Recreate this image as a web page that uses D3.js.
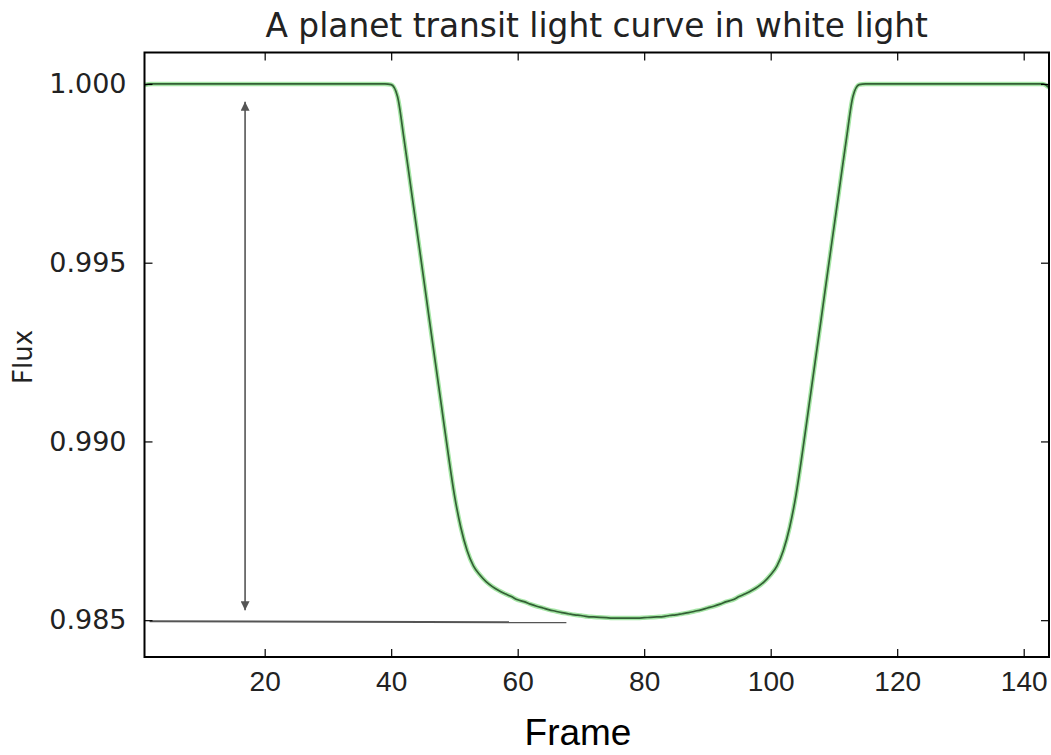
<!DOCTYPE html>
<html>
<head>
<meta charset="utf-8">
<script src="https://cdn.jsdelivr.net/npm/d3@7"></script>
<style>
  html, body { margin: 0; padding: 0; background: #fff; }
  svg { display: block; }
</style>
</head>
<body>
<svg id="chart" width="1051" height="755"></svg>
<script>
// ---- data ----
const titleText = "A planet transit light curve in white light";
const xLabel = "Frame";
const yLabel = "Flux";
const xTicks = [20, 40, 60, 80, 100, 120, 140];
const yTicks = [0.985, 0.990, 0.995, 1.000];
const xDomain = [1, 144];
const yDomain = [0.98397, 1.00088];

// flux for frames 1..144
const flux = [
  0.99997, 1.00000, 1.00000, 1.00000, 1.00000, 1.00000, 1.00000, 1.00000, 1.00000, 1.00000,
  1.00000, 1.00000, 1.00000, 1.00000, 1.00000, 1.00000, 1.00000, 1.00000, 1.00000, 1.00000,
  1.00000, 1.00000, 1.00000, 1.00000, 1.00000, 1.00000, 1.00000, 1.00000, 1.00000, 1.00000,
  1.00000, 1.00000, 1.00000, 1.00000, 1.00000, 1.00000, 1.00000, 1.00000, 1.00000, 0.99998,
  0.99965, 0.99850, 0.99725, 0.99599, 0.99473, 0.99345, 0.99219, 0.99093, 0.98967, 0.98850,
  0.98760, 0.98695, 0.98652, 0.98627, 0.98608, 0.98594, 0.98583, 0.98574, 0.98566, 0.98557,
  0.98552, 0.98545, 0.98539, 0.98534, 0.98529, 0.98525, 0.98521, 0.98518, 0.98515, 0.98513,
  0.98510, 0.98509, 0.98508, 0.98507, 0.98506, 0.98506, 0.98506, 0.98506, 0.98506, 0.98507,
  0.98508, 0.98509, 0.98510, 0.98513, 0.98515, 0.98518, 0.98521, 0.98525, 0.98529, 0.98534,
  0.98539, 0.98545, 0.98552, 0.98557, 0.98566, 0.98574, 0.98583, 0.98594, 0.98608, 0.98627,
  0.98652, 0.98695, 0.98760, 0.98850, 0.98967, 0.99093, 0.99219, 0.99345, 0.99473, 0.99599,
  0.99725, 0.99850, 0.99965, 0.99998, 1.00000, 1.00000, 1.00000, 1.00000, 1.00000, 1.00000,
  1.00000, 1.00000, 1.00000, 1.00000, 1.00000, 1.00000, 1.00000, 1.00000, 1.00000, 1.00000,
  1.00000, 1.00000, 1.00000, 1.00000, 1.00000, 1.00000, 1.00000, 1.00000, 1.00000, 1.00000,
  1.00000, 1.00000, 1.00000, 0.99990
];

// annotations (data coordinates)
const depthArrow = { x: 16.9, yTop: 0.99950, yBottom: 0.98528 };
const minLine = [[1.8, 0.98497], [67.7, 0.98494]];

// ---- layout ----
const plot = { left: 144.5, right: 1049, top: 52.5, bottom: 657 };
const svg = d3.select("#chart");

const x = d3.scaleLinear().domain(xDomain).range([plot.left, plot.right]);
const y = d3.scaleLinear().domain(yDomain).range([plot.bottom, plot.top]);

const data = flux.map((v, i) => ({ frame: i + 1, flux: v }));

// defs: clip + arrow markers
const defs = svg.append("defs");
defs.append("clipPath").attr("id", "clip")
  .append("rect")
  .attr("x", plot.left).attr("y", plot.top)
  .attr("width", plot.right - plot.left).attr("height", plot.bottom - plot.top);

["start", "end"].forEach(k => {
  defs.append("marker")
    .attr("id", "arrow-" + k)
    .attr("viewBox", "0 0 10 10")
    .attr("refX", 10).attr("refY", 5)
    .attr("markerUnits", "userSpaceOnUse")
    .attr("markerWidth", 13).attr("markerHeight", 9)
    .attr("orient", k === "start" ? "auto-start-reverse" : "auto")
    .append("path")
    .attr("d", "M0,0 L10,5 L0,10 Z")
    .attr("fill", "#555");
});

// line
const line = d3.line().x(d => x(d.frame)).y(d => y(d.flux)).curve(d3.curveMonotoneX);
const g = svg.append("g").attr("clip-path", "url(#clip)");
g.append("path").datum(data)
  .attr("d", line)
  .attr("fill", "none")
  .attr("stroke", "#a6e6a6")
  .attr("stroke-width", 4.5)
  .attr("stroke-linejoin", "round");
g.append("path").datum(data)
  .attr("d", line)
  .attr("fill", "none")
  .attr("stroke", "#335f35")
  .attr("stroke-width", 1.7)
  .attr("stroke-linejoin", "round");

// annotations
svg.append("line")
  .attr("x1", x(depthArrow.x)).attr("x2", x(depthArrow.x))
  .attr("y1", y(depthArrow.yBottom)).attr("y2", y(depthArrow.yTop))
  .attr("stroke", "#555").attr("stroke-width", 1.6)
  .attr("marker-start", "url(#arrow-start)")
  .attr("marker-end", "url(#arrow-end)");

svg.append("line")
  .attr("x1", x(minLine[0][0])).attr("y1", y(minLine[0][1]))
  .attr("x2", x(minLine[1][0])).attr("y2", y(minLine[1][1]))
  .attr("stroke", "#555").attr("stroke-width", 2);

// axes (ticks inside, on all 4 sides)
const tickLen = 8;
const axisBottom = d3.axisBottom(x).tickValues(xTicks).tickSizeInner(-tickLen).tickSizeOuter(0).tickPadding(14);
const axisTop = d3.axisTop(x).tickValues(xTicks).tickSizeInner(-tickLen).tickSizeOuter(0).tickFormat("");
const axisLeft = d3.axisLeft(y).tickValues(yTicks).tickSizeInner(-tickLen).tickSizeOuter(0).tickPadding(18).tickFormat(d3.format(".3f"));
const axisRight = d3.axisRight(y).tickValues(yTicks).tickSizeInner(-tickLen).tickSizeOuter(0).tickFormat("");

const gb = svg.append("g").attr("transform", `translate(0,${plot.bottom})`).call(axisBottom);
const gt = svg.append("g").attr("transform", `translate(0,${plot.top})`).call(axisTop);
const gl = svg.append("g").attr("transform", `translate(${plot.left},0)`).call(axisLeft);
const gr = svg.append("g").attr("transform", `translate(${plot.right},0)`).call(axisRight);

[gb, gt, gl, gr].forEach(a => {
  a.select(".domain").remove();
  a.selectAll(".tick line").attr("stroke", "#000").attr("stroke-width", 1.2);
});

gb.selectAll(".tick text")
  .attr("font-family", "'Liberation Sans', Arial, sans-serif")
  .attr("font-size", 28).attr("fill", "#222");
gl.selectAll(".tick text")
  .attr("font-family", "'DejaVu Sans', sans-serif")
  .attr("font-size", 27).attr("fill", "#222");

// frame
svg.append("rect")
  .attr("x", plot.left).attr("y", plot.top)
  .attr("width", plot.right - plot.left).attr("height", plot.bottom - plot.top)
  .attr("fill", "none").attr("stroke", "#000").attr("stroke-width", 2);

// title
svg.append("text")
  .attr("x", (plot.left + plot.right) / 2).attr("y", 37)
  .attr("text-anchor", "middle")
  .attr("font-family", "'DejaVu Sans', sans-serif")
  .attr("font-size", 32.8).attr("fill", "#222")
  .text(titleText);

// x label
svg.append("text")
  .attr("x", 578).attr("y", 745)
  .attr("text-anchor", "middle")
  .attr("font-family", "'Liberation Sans', Arial, sans-serif")
  .attr("font-size", 37).attr("fill", "#000")
  .text(xLabel);

// y label
svg.append("text")
  .attr("transform", `translate(32,357) rotate(-90)`)
  .attr("text-anchor", "middle")
  .attr("font-family", "'DejaVu Sans', sans-serif")
  .attr("font-size", 26).attr("fill", "#222")
  .text(yLabel);
</script>
</body>
</html>
